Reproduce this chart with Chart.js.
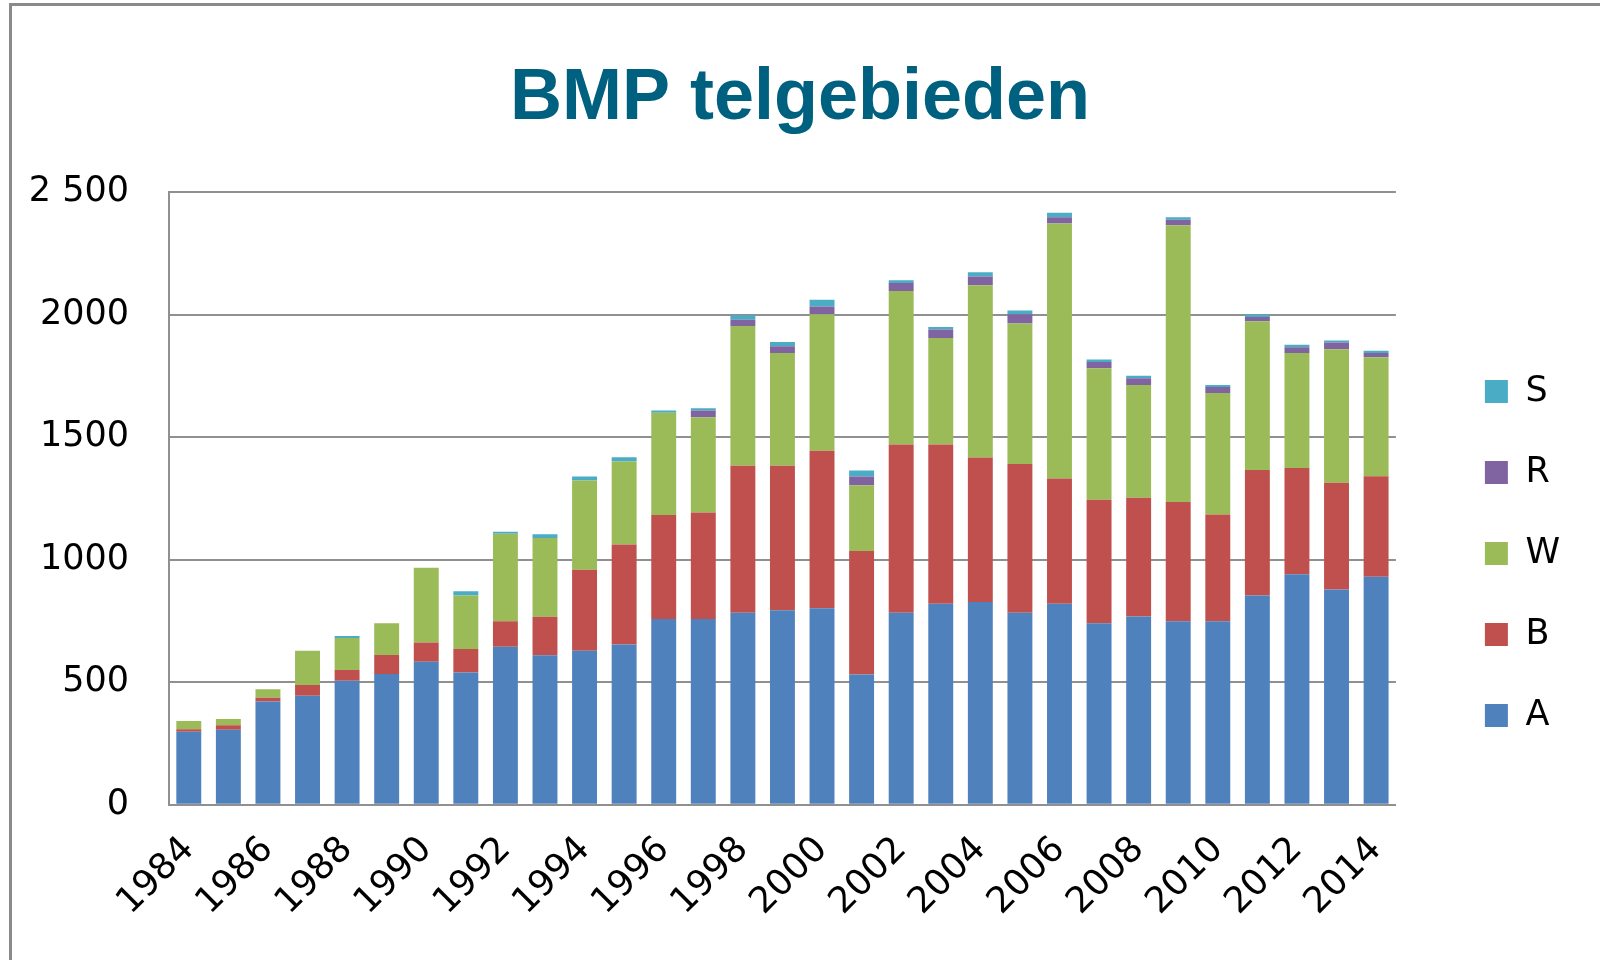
<!DOCTYPE html>
<html>
<head>
<meta charset="utf-8">
<script src="https://cdn.jsdelivr.net/npm/chart.js@4"></script>
<style>
  html, body { margin: 0; padding: 0; background: #fff; }
  #wrap { position: relative; width: 1600px; height: 960px; }
  #frame { position: absolute; left: 9px; top: 3px; right: -10px; bottom: -10px;
           border-top: 3px solid #8a8a8a; border-left: 3px solid #8a8a8a; pointer-events: none; }
</style>
</head>
<body>
<div id="wrap">
  <canvas id="chart" width="1600" height="960"></canvas>
  <div id="frame"></div>
</div>
<script>
const years = ['1984','1985','1986','1987','1988','1989','1990','1991','1992','1993',
  '1994','1995','1996','1997','1998','1999','2000','2001','2002','2003',
  '2004','2005','2006','2007','2008','2009','2010','2011','2012','2013','2014'];

const seriesA = [298,306,421,445,506,534,584,540,645,610,628,654,758,758,784,794,802,532,784,820,828,784,820,741,768,749,749,854,941,879,931];
const seriesB = [10,18,16,44,44,77,78,96,104,157,331,408,425,435,600,590,643,504,687,651,590,607,512,504,485,487,436,513,434,435,410];
const seriesW = [34,26,34,139,131,130,305,218,357,322,365,339,417,389,570,460,557,268,626,435,703,574,1041,537,461,1130,496,607,469,546,486];
const seriesR = [0,0,0,0,0,0,0,0,0,0,0,0,0,27,26,28,32,36,33,34,36,37,26,25,27,22,24,17,24,27,17];
const seriesS = [0,0,0,0,8,0,0,17,8,15,16,18,9,10,18,17,28,24,11,10,17,16,18,11,10,11,9,10,10,8,9];

const yTicks = ['0', '500', '1000', '1500', '2000', '2 500'];

const gridColor = '#909090';

new Chart(document.getElementById('chart'), {
  type: 'bar',
  data: {
    labels: years,
    datasets: [
      { label: 'A', data: seriesA, backgroundColor: '#4F81BD' },
      { label: 'B', data: seriesB, backgroundColor: '#C0504D' },
      { label: 'W', data: seriesW, backgroundColor: '#9BBB59' },
      { label: 'R', data: seriesR, backgroundColor: '#8064A2' },
      { label: 'S', data: seriesS, backgroundColor: '#4BACC6' }
    ]
  },
  options: {
    responsive: false,
    animation: false,
    layout: { padding: { left: 30, right: 30, top: 0, bottom: 20 } },
    datasets: { bar: { barPercentage: 0.63, categoryPercentage: 1 } },
    plugins: {
      title: {
        display: true,
        text: 'BMP telgebieden',
        color: '#00607F',
        font: { family: 'Liberation Sans', size: 72, weight: 'bold' },
        padding: { top: 56, bottom: 50 }
      },
      legend: {
        position: 'right',
        reverse: true,
        fullSize: false,
        title: { display: true, text: '', padding: { top: 100, bottom: 0 }, font: { size: 10, lineHeight: 1 } },
        labels: {
          boxWidth: 23,
          boxHeight: 23,
          padding: 46,
          color: '#000',
          font: { family: 'DejaVu Sans', size: 35 }
        }
      },
      tooltip: { enabled: false }
    },
    scales: {
      x: {
        stacked: true,
        grid: { display: false },
        border: { display: true, color: gridColor, width: 2 },
        ticks: {
          autoSkip: false,
          maxRotation: 45,
          minRotation: 45,
          padding: 16,
          color: '#000',
          font: { family: 'DejaVu Sans', size: 36 },
          callback: function (v, i) { return i % 2 === 0 ? years[i] : null; }
        }
      },
      y: {
        stacked: true,
        min: 0,
        max: 2500,
        grid: { color: gridColor, lineWidth: 2, drawTicks: false },
        border: { display: true, color: gridColor, width: 2 },
        ticks: {
          stepSize: 500,
          padding: 40,
          color: '#000',
          font: { family: 'DejaVu Sans', size: 35 },
          callback: function (v) { return yTicks[v / 500]; }
        },
        afterFit: function (s) { s.width = 139; }
      },
      gap: {
        position: 'right',
        display: true,
        grid: { display: false },
        border: { display: false },
        ticks: { display: false },
        afterFit: function (s) { s.width = 43; }
      }
    }
  }
});
</script>
</body>
</html>
